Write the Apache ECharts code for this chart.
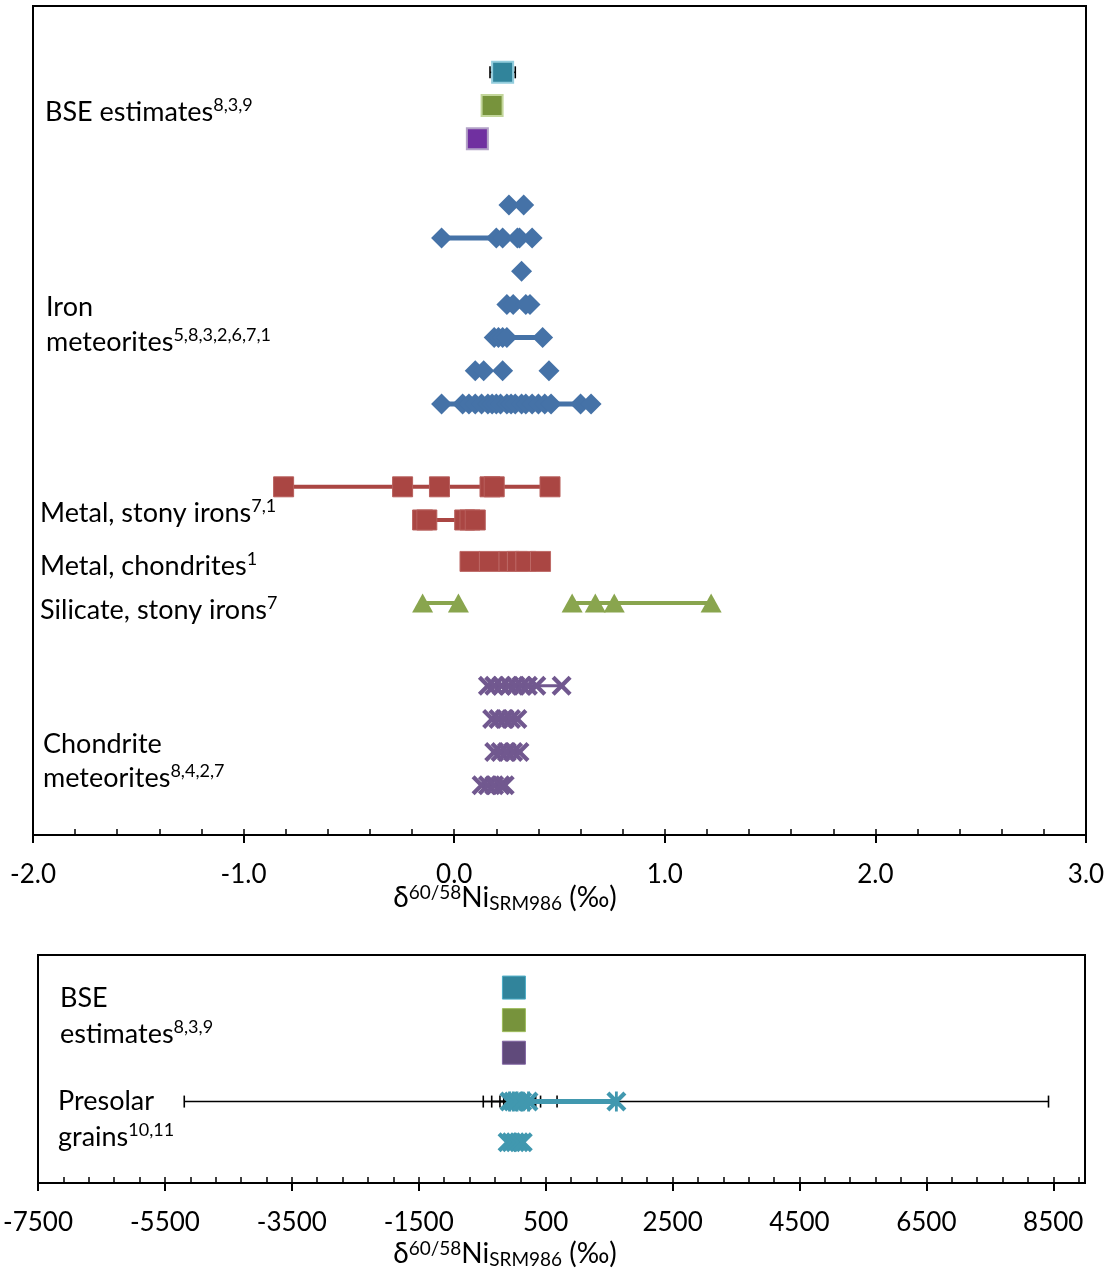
<!DOCTYPE html>
<html><head><meta charset="utf-8">
<script src="https://cdn.jsdelivr.net/npm/echarts@6/dist/echarts.min.js"></script>
<style>html,body{margin:0;padding:0;background:#fff}#c{width:1115px;height:1276px}</style>
</head><body><div id="c"></div>
<script>
// ---------- DATA (top panel, δ60/58Ni ‰) ----------
const topTickLabels = ['-2.0', '-1.0', '0.0', '1.0', '2.0', '3.0'];
const bottomTickLabels = ['-7500', '-5500', '-3500', '-1500', '500', '2500', '4500', '6500', '8500'];

const bseTopX = [0.23, 0.18, 0.11];
const bseTopY = [23, 22, 21];
const bseTopErr = [0.06, 0, 0];

const ironY = [19, 18, 17, 16, 15, 14, 13];
const iron1 = [0.26, 0.33];
const iron2 = [-0.06, 0.20, 0.23, 0.30, 0.31, 0.37];
const iron3 = [0.32];
const iron4 = [0.25, 0.28, 0.34, 0.36];
const iron5 = [0.19, 0.21, 0.23, 0.25, 0.42];
const iron6 = [0.10, 0.14, 0.23, 0.45];
const iron7 = [-0.06, 0.04, 0.07, 0.10, 0.13, 0.16, 0.18, 0.20, 0.22, 0.25, 0.27, 0.29, 0.32, 0.34, 0.37, 0.40, 0.43, 0.46, 0.60, 0.65];
const ironLineWidth = [5, 5, 5, 5, 5, 0, 5];

const metalStonyY = [10.5, 9.5];
const metalStony1 = [-0.81, -0.245, -0.07, 0.17, 0.19, 0.455];
const metalStony2 = [-0.15, -0.13, 0.05, 0.075, 0.10];

const metalChondY = 8.25;
const metalChond = [0.075, 0.167, 0.26, 0.30, 0.34, 0.41];

const silicateY = 7;
const silicateA = [-0.15, 0.02];
const silicateB = [0.56, 0.67, 0.76, 1.22];

const chondY = [4.5, 3.5, 2.5, 1.5];
const chond1 = [0.16, 0.19, 0.225, 0.26, 0.29, 0.32, 0.35, 0.39, 0.51];
const chond2 = [0.18, 0.21, 0.24, 0.27, 0.30];
const chond3 = [0.19, 0.22, 0.25, 0.28, 0.31];
const chond4 = [0.13, 0.16, 0.19, 0.22, 0.24];

// ---------- DATA (bottom panel) ----------
const bseBotX = [0.23, 0.18, 0.11];
const bseBotY = [6, 5, 4];
const presolarY = [2.5, 1.25];
const presolar1 = [-70, -10, 50, 130, 230, 1615];
const presolar1Err = [413, 340, 0, 290, 450, 6810];
const presolar2 = [-100, -40, 20, 80, 140];

// ---------- STYLE ----------
const F = 'Lato';
const C = { blue: '#4572A7', red: '#AA4643', green: '#89A54E', purple: '#71588F', teal: '#4198AF' };
const xPath = 'path://M3,0 L10,7 L17,0 L20,3 L13,10 L20,17 L17,20 L10,13 L3,20 L0,17 L7,10 L0,3 Z';
const starPath = 'path://M3,0 L10,7 L17,0 L20,3 L13,10 L20,17 L17,20 L10,13 L3,20 L0,17 L7,10 L0,3 Z M8.6,0 L11.4,0 L11.4,20 L8.6,20 Z';

const series = [];
function row(xs, y, o, grid) {
  const data = xs.map(x => [x, y]);
  const xi = grid ? 2 : 0, yi = grid ? 1 : 0;
  if (o.lineWidth && xs.length > 1) {
    series.push({ type: 'line', xAxisIndex: xi, yAxisIndex: yi, data, symbol: 'none', silent: true,
      lineStyle: { color: o.color, width: o.lineWidth }, z: 3, animation: false });
  }
  series.push({ type: 'scatter', xAxisIndex: xi, yAxisIndex: yi, data, symbol: o.symbol, symbolSize: o.size,
    itemStyle: { color: o.color, borderColor: o.border || o.color, borderWidth: o.borderWidth || 0, opacity: 1 },
    silent: true, z: 4, animation: false });
}
function errBars(xs, y, errs, grid, capH) {
  const data = xs.map((x, i) => [x, y, errs[i]]).filter(d => d[2] > 0);
  series.push({
    type: 'custom', xAxisIndex: grid ? 2 : 0, yAxisIndex: grid ? 1 : 0, z: 2, silent: true, animation: false,
    data, encode: { x: 0, y: 1 },
    renderItem: (params, api) => {
      const x = api.value(0), yy = api.value(1), e = api.value(2);
      const l = api.coord([x - e, yy]), r = api.coord([x + e, yy]);
      const st = { stroke: '#000', lineWidth: 1.6 };
      return { type: 'group', children: [
        { type: 'line', shape: { x1: l[0], y1: l[1], x2: r[0], y2: r[1] }, style: st },
        { type: 'line', shape: { x1: l[0], y1: l[1] - capH / 2, x2: l[0], y2: l[1] + capH / 2 }, style: st },
        { type: 'line', shape: { x1: r[0], y1: r[1] - capH / 2, x2: r[0], y2: r[1] + capH / 2 }, style: st }
      ] };
    }
  });
}

// top panel
errBars([bseTopX[0]], bseTopY[0], [bseTopErr[0]], false, 12);
row([bseTopX[0]], bseTopY[0], { color: '#31849B', border: '#93CDDD', borderWidth: 2, symbol: 'rect', size: 21 });
row([bseTopX[1]], bseTopY[1], { color: '#77933C', border: '#C3D69B', borderWidth: 2, symbol: 'rect', size: 21 });
row([bseTopX[2]], bseTopY[2], { color: '#7030A0', border: '#B3A2C7', borderWidth: 2, symbol: 'rect', size: 21 });
[iron1, iron2, iron3, iron4, iron5, iron6, iron7].forEach((r, i) =>
  row(r, ironY[i], { color: C.blue, lineWidth: ironLineWidth[i], symbol: 'diamond', size: [21, 21] }));
[metalStony1, metalStony2].forEach((r, i) =>
  row(r, metalStonyY[i], { color: C.red, border: '#B85F5C', borderWidth: 1, lineWidth: 4, symbol: 'rect', size: 20 }));
row(metalChond, metalChondY, { color: C.red, border: '#BE6A67', borderWidth: 1, lineWidth: 4, symbol: 'rect', size: 20 });
row(silicateA, silicateY, { color: C.green, lineWidth: 4, symbol: 'triangle', size: [21, 19] });
row(silicateB, silicateY, { color: C.green, lineWidth: 4, symbol: 'triangle', size: [21, 19] });
[chond1, chond2, chond3, chond4].forEach((r, i) =>
  row(r, chondY[i], { color: C.purple, lineWidth: 3, symbol: xPath, size: 20 }));

// bottom panel
row([bseBotX[0]], bseBotY[0], { color: '#31849B', border: '#4BACC6', borderWidth: 1, symbol: 'rect', size: 23 }, 1);
row([bseBotX[1]], bseBotY[1], { color: '#77933C', border: '#9BBB59', borderWidth: 1, symbol: 'rect', size: 23 }, 1);
row([bseBotX[2]], bseBotY[2], { color: '#604A7B', border: '#8064A2', borderWidth: 1, symbol: 'rect', size: 23 }, 1);
errBars(presolar1, presolarY[0], presolar1Err, true, 12);
row(presolar1, presolarY[0], { color: C.teal, lineWidth: 5, symbol: starPath, size: 20 }, 1);
row(presolar2, presolarY[1], { color: C.teal, lineWidth: 5, symbol: xPath, size: 20 }, 1);

// ---------- LABELS ----------
const rich = {
  m: { fontSize: 27, fontFamily: F, fill: '#000', lineHeight: 30, verticalAlign: 'bottom' },
  s: { fontSize: 18, fontFamily: F, fill: '#000', lineHeight: 16, verticalAlign: 'top' }
};
function lab(x, y, main, sup) {
  return { type: 'text', x, y, z: 10, silent: true,
    style: { text: '{m|' + main + '}' + (sup ? '{s|' + sup + '}' : ''), rich, verticalAlign: 'middle', align: 'left', fill: '#000' } };
}
const titleRich = {
  m: { fontSize: 28, fontFamily: F, fill: '#000', lineHeight: 30, verticalAlign: 'middle' },
  p: { fontSize: 19, fontFamily: F, fill: '#000', lineHeight: 18, verticalAlign: 'top' },
  b: { fontSize: 19, fontFamily: F, fill: '#000', lineHeight: 18, verticalAlign: 'bottom' }
};
function title(cx, cy) {
  return { type: 'text', x: cx, y: cy, z: 10, silent: true,
    style: { text: '{m|δ}{p|60/58}{m|Ni}{b|SRM986}{m| (‰)}', rich: titleRich, align: 'center', verticalAlign: 'middle', fill: '#000' } };
}
const graphics = [
  lab(45, 111, 'BSE estimates', '8,3,9'),
  lab(46, 306, 'Iron', ''),
  lab(46, 341, 'meteorites', '5,8,3,2,6,7,1'),
  lab(40, 512, 'Metal, stony irons', '7,1'),
  lab(40, 565, 'Metal, chondrites', '1'),
  lab(40, 609, 'Silicate, stony irons', '7'),
  lab(43, 743, 'Chondrite', ''),
  lab(43, 777, 'meteorites', '8,4,2,7'),
  lab(60, 997, 'BSE', ''),
  lab(60, 1033, 'estimates', '8,3,9'),
  lab(58, 1100, 'Presolar', ''),
  lab(58, 1136, 'grains', '10,11'),
  title(505, 898),
  title(505, 1254)
];

const tickLine = { color: '#000', width: 2 };
const option = {
  animation: false,
  backgroundColor: '#fff',
  grid: [
    { left: 33, top: 6, width: 1053, height: 829, show: true, borderColor: '#000', borderWidth: 2, backgroundColor: 'transparent' },
    { left: 38, top: 955, width: 1047, height: 228, show: true, borderColor: '#000', borderWidth: 2, backgroundColor: 'transparent' }
  ],
  xAxis: [
    { gridIndex: 0, type: 'value', position: 'bottom', min: -2, max: 3, interval: 1,
      axisLine: { show: true, onZero: false, lineStyle: { color: '#000', width: 2 } },
      axisTick: { show: true, inside: false, length: 8, lineStyle: tickLine },
      axisLabel: { show: true, fontSize: 26, fontFamily: F, color: '#000', margin: 27,
        formatter: (v, i) => topTickLabels[i] ?? '' },
      splitLine: { show: false } },
    { gridIndex: 0, type: 'value', position: 'bottom', min: -2, max: 3, interval: 0.2,
      axisLine: { show: false }, axisTick: { show: true, inside: true, length: 6, lineStyle: { color: '#000', width: 1.5 } },
      axisLabel: { show: false }, splitLine: { show: false } },
    { gridIndex: 1, type: 'value', position: 'bottom', min: -7500, max: 9000,
      axisLine: { show: true, onZero: false, lineStyle: { color: '#000', width: 2 } },
      axisTick: { show: false }, axisLabel: { show: false }, splitLine: { show: false } },
    { gridIndex: 1, type: 'value', position: 'bottom', min: 0, max: 16500, interval: 2000,
      axisLine: { show: false }, axisTick: { show: true, inside: false, length: 8, lineStyle: tickLine },
      axisLabel: { show: true, fontSize: 26, fontFamily: F, color: '#000', margin: 27, showMaxLabel: false,
        formatter: (v, i) => bottomTickLabels[i] ?? '' },
      splitLine: { show: false } },
    { gridIndex: 1, type: 'value', position: 'bottom', min: 0, max: 16500, interval: 400,
      axisLine: { show: false }, axisTick: { show: true, inside: true, length: 6, lineStyle: { color: '#000', width: 1.5 } },
      axisLabel: { show: false }, splitLine: { show: false } }
  ],
  yAxis: [
    { gridIndex: 0, type: 'value', min: 0, max: 25, show: false },
    { gridIndex: 1, type: 'value', min: 0, max: 7, show: false }
  ],
  series,
  graphic: graphics
};
const chart = echarts.init(document.getElementById('c'), null, { renderer: 'canvas' });
chart.setOption(option);
</script></body></html>
